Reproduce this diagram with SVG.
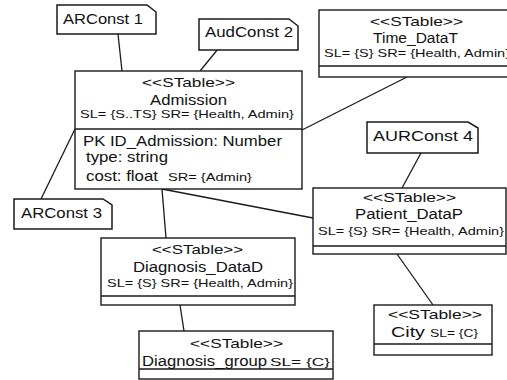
<svg xmlns="http://www.w3.org/2000/svg" width="507" height="380" viewBox="0 0 507 380">
<style>
.box{fill:#fff;stroke:#1a1a1a;stroke-width:1.4}
.note{fill:#fff;stroke:#1a1a1a;stroke-width:1.5;stroke-linejoin:miter}
.div{stroke:#1a1a1a;stroke-width:1.3}
.conn line{stroke:#1a1a1a;stroke-width:1.3}
text{font-family:"Liberation Sans",Arial,sans-serif;fill:#111}
.st{font-size:13px}
.nm{font-size:14px}
.sl{font-size:11.5px}
.at{font-size:15px}
.nt{font-size:15px}
</style>
<rect width="507" height="380" fill="#fff"/>
<g id="connectors" class="conn">
<line x1="118" y1="34" x2="122" y2="71"/>
<line x1="218" y1="49" x2="200" y2="71"/>
<line x1="302" y1="130" x2="407" y2="77"/>
<line x1="75" y1="129" x2="41" y2="199"/>
<line x1="162" y1="189" x2="166" y2="238"/>
<line x1="162" y1="189" x2="313" y2="218"/>
<line x1="180" y1="305" x2="184" y2="331"/>
<line x1="421" y1="153" x2="402" y2="188"/>
<line x1="397" y1="254" x2="433" y2="305"/>
</g>
<g id="ARConst1">
<path class="note" d="M57,5 H147 L156,12 V34 H57 Z"/>
<text class="nt" x="63" y="24" textLength="80" lengthAdjust="spacingAndGlyphs">ARConst 1</text>
</g>
<g id="AudConst2">
<path class="note" d="M199,19 H289 L298,26 V50 H199 Z"/>
<text class="nt" x="205" y="37" textLength="88" lengthAdjust="spacingAndGlyphs">AudConst 2</text>
</g>
<g id="ARConst3">
<path class="note" d="M14,199 H103 L112,205 V229 H14 Z"/>
<text class="nt" x="21" y="218" textLength="81" lengthAdjust="spacingAndGlyphs">ARConst 3</text>
</g>
<g id="AURConst4">
<path class="note" d="M367,122 H468 L478,128 V153 H367 Z"/>
<text class="nt" x="373" y="141" textLength="100" lengthAdjust="spacingAndGlyphs">AURConst 4</text>
</g>
<g id="Admission">
<rect class="box" x="75" y="71" width="227" height="118"/>
<line class="div" x1="75" y1="129" x2="302" y2="129"/>
<text class="st" x="142" y="87" textLength="93" lengthAdjust="spacingAndGlyphs">&lt;&lt;STable&gt;&gt;</text>
<text class="nm" x="150" y="105" textLength="77" lengthAdjust="spacingAndGlyphs">Admission</text>
<text class="sl" x="80" y="118" textLength="214" lengthAdjust="spacingAndGlyphs">SL= {S..TS} SR= {Health, Admin}</text>
<text class="at" x="83" y="146" textLength="199" lengthAdjust="spacingAndGlyphs">PK ID_Admission: Number</text>
<text class="at" x="86" y="162" textLength="82" lengthAdjust="spacingAndGlyphs">type: string</text>
<text class="at" x="86" y="181" textLength="72" lengthAdjust="spacingAndGlyphs">cost: float</text>
<text class="sl" x="168" y="181" textLength="84" lengthAdjust="spacingAndGlyphs">SR= {Admin}</text>
</g>
<g id="Time_DataT">
<rect class="box" x="319" y="10" width="193" height="67"/>
<line class="div" x1="319" y1="66" x2="512" y2="66"/>
<text class="st" x="370" y="26" textLength="93" lengthAdjust="spacingAndGlyphs">&lt;&lt;STable&gt;&gt;</text>
<text class="nm" x="373" y="43" textLength="85" lengthAdjust="spacingAndGlyphs">Time_DataT</text>
<text class="sl" x="324" y="57" textLength="186" lengthAdjust="spacingAndGlyphs">SL= {S} SR= {Health, Admin}</text>
</g>
<g id="Patient_DataP">
<rect class="box" x="313" y="188" width="193" height="66"/>
<line class="div" x1="313" y1="246" x2="506" y2="246"/>
<text class="st" x="363" y="202" textLength="93" lengthAdjust="spacingAndGlyphs">&lt;&lt;STable&gt;&gt;</text>
<text class="nm" x="355" y="219" textLength="108" lengthAdjust="spacingAndGlyphs">Patient_DataP</text>
<text class="sl" x="318" y="235" textLength="186" lengthAdjust="spacingAndGlyphs">SL= {S} SR= {Health, Admin}</text>
</g>
<g id="Diagnosis_DataD">
<rect class="box" x="101" y="238" width="194" height="67"/>
<line class="div" x1="101" y1="296" x2="295" y2="296"/>
<text class="st" x="152" y="254" textLength="91" lengthAdjust="spacingAndGlyphs">&lt;&lt;STable&gt;&gt;</text>
<text class="nm" x="133" y="272" textLength="130" lengthAdjust="spacingAndGlyphs">Diagnosis_DataD</text>
<text class="sl" x="107" y="287" textLength="186" lengthAdjust="spacingAndGlyphs">SL= {S} SR= {Health, Admin}</text>
</g>
<g id="Diagnosis_group">
<rect class="box" x="139" y="331" width="194" height="48"/>
<line class="div" x1="139" y1="369" x2="333" y2="369"/>
<text class="st" x="190" y="348" font-size="12" textLength="93" lengthAdjust="spacingAndGlyphs">&lt;&lt;STable&gt;&gt;</text>
<text class="nm" x="142" y="366" textLength="125" lengthAdjust="spacingAndGlyphs">Diagnosis_group</text>
<text class="sl" x="270" y="366" textLength="60" lengthAdjust="spacingAndGlyphs">SL= {C}</text>
</g>
<g id="City">
<rect class="box" x="374" y="305" width="118" height="50"/>
<line class="div" x1="374" y1="344" x2="492" y2="344"/>
<text class="st" x="388" y="319" textLength="94" lengthAdjust="spacingAndGlyphs">&lt;&lt;STable&gt;&gt;</text>
<text class="nm" x="391" y="337" textLength="34" lengthAdjust="spacingAndGlyphs">City</text>
<text class="sl" x="430" y="337" textLength="48" lengthAdjust="spacingAndGlyphs">SL= {C}</text>
</g>
</svg>
